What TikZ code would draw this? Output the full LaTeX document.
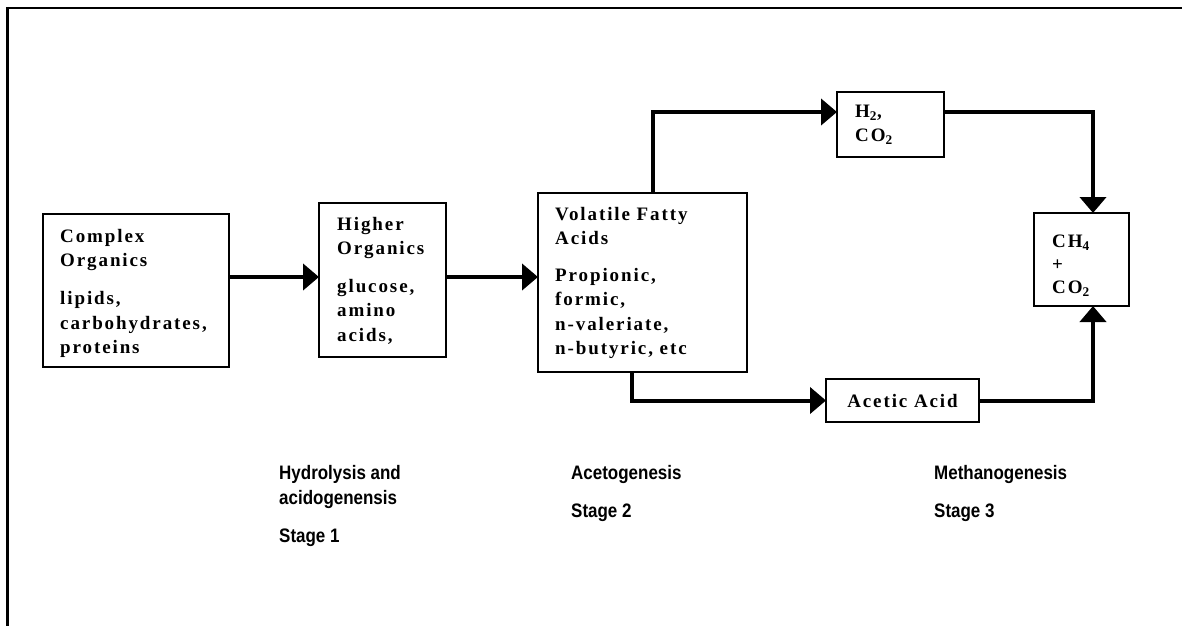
\documentclass[tikz,border=0pt]{standalone}
\usepackage{fontspec}
\usetikzlibrary{arrows.meta}
\newfontfamily\boxserif[LetterSpace=10]{Liberation Serif Bold}
\newfontfamily\stagesans[FakeStretch=0.87]{Liberation Sans Bold}
\begin{document}
\begin{tikzpicture}[x=1pt,y=-1pt,
  box/.style={draw, line width=2.5pt, inner sep=0pt, outer sep=0pt},
  boxtext/.style={anchor=north west, inner sep=0pt, align=left,
    font=\boxserif\fontsize{19}{24.5}\selectfont},
  stagetext/.style={anchor=north west, inner sep=0pt, align=left,
    font=\stagesans\fontsize{19.5}{25}\selectfont},
  conn/.style={line width=4pt, -{Triangle[length=16pt,width=26pt]}}
]
\useasboundingbox (0,0) rectangle (1182,626);
% frame
\draw[line width=1.5pt] (6,8) -- (1182,8);
\draw[line width=3pt] (7,7) -- (7,626);

% boxes
\node[box, minimum width=186pt, minimum height=153pt] (b1) at (136,290.5) {};
\node[box, minimum width=127pt, minimum height=154pt] (b2) at (382.5,280) {};
\node[box, minimum width=209pt, minimum height=179pt] (b3) at (642.5,282.5) {};
\node[box, minimum width=107pt, minimum height=65pt] (h2) at (890.5,124.5) {};
\node[box, minimum width=95pt, minimum height=93pt] (ch4) at (1081.5,259.5) {};
\node[box, minimum width=153pt, minimum height=43pt,
  font=\boxserif\fontsize{19}{24.5}\selectfont] (ac) at (902.5,400.5) {Acetic Acid};

% box texts
\node[boxtext] (t1) at (60,224.85) {\strut Complex\\Organics\\[13.5pt]lipids,\\carbohydrates,\\proteins};
\node[boxtext] (t2) at (337,212.85) {\strut Higher\\Organics\\[13pt]glucose,\\amino\\acids,};
\node[boxtext] (t3) at (555,202.85) {\strut Volatile Fatty\\Acids\\[12pt]Propionic,\\formic,\\n-valeriate,\\n-butyric, etc};
\node[boxtext] (t4) at (855,99.85) {\strut H\textsubscript{2},\\CO\textsubscript{2}};
\node[boxtext, font=\boxserif\fontsize{19}{23}\selectfont] (t5) at (1052,230.9) {\strut CH\textsubscript{4}\\+\\CO\textsubscript{2}};

% stage labels
\node[stagetext] (s1) at (279,461.5) {\strut Hydrolysis and\\acidogenensis\\[13pt]Stage 1};
\node[stagetext] (s2) at (571,461.5) {\strut Acetogenesis\\[13pt]Stage 2};
\node[stagetext] (s3) at (934,461.5) {\strut Methanogenesis\\[13pt]Stage 3};

% connector helper coordinates
\coordinate (rowA) at (0,277);
\coordinate (topY) at (0,112);
\coordinate (upX) at (653,0);
\coordinate (downX) at (632,0);
\coordinate (rightX) at (1093,0);

% connectors
\draw[conn] (b1.east |- rowA) -- (b2.west |- rowA);
\draw[conn] (b2.east |- rowA) -- (b3.west |- rowA);
\draw[conn] (b3.north -| upX) |- (h2.west |- topY);
\draw[conn] (h2.east |- topY) -| (ch4.north -| rightX);
\draw[conn] (b3.south -| downX) |- (ac.west);
\draw[conn] (ac.east) -| (ch4.south -| rightX);
\end{tikzpicture}
\end{document}
